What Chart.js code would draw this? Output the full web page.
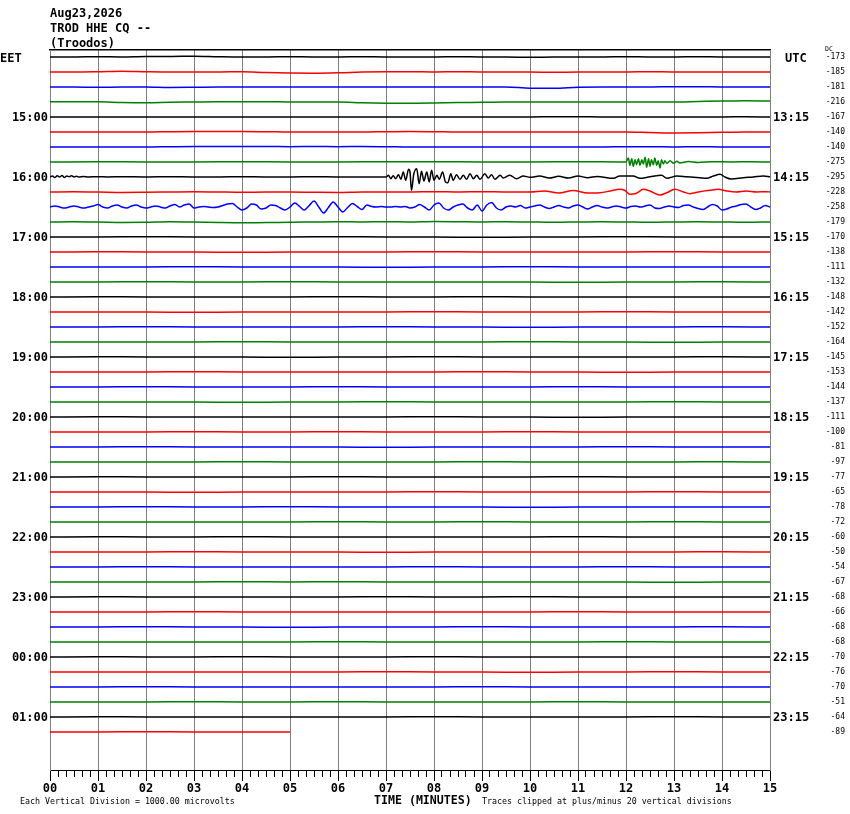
<!DOCTYPE html>
<html><head><meta charset="utf-8">
<script src="https://cdn.jsdelivr.net/npm/chart.js@4.4.1/dist/chart.umd.min.js"></script>
<style>
html,body{margin:0;padding:0;background:#fff;}
#wrap{position:relative;width:850px;height:814px;overflow:hidden;background:#fff;}
canvas{position:absolute;left:0;top:0;}
.t{position:absolute;font-family:"DejaVu Sans Mono",monospace;color:#000;white-space:pre;line-height:1;}
.hb{font-weight:bold;font-size:12px;}
.sm{font-size:8.3px;}
</style></head><body>
<div id="wrap">
<canvas id="c" width="850" height="814"></canvas>
<div class="t hb" style="left:50px;top:7px">Aug23,2026</div>
<div class="t hb" style="left:50px;top:22px">TROD HHE CQ --</div>
<div class="t hb" style="left:50px;top:37px">(Troodos)</div>
<div class="t hb" style="left:0px;top:52px">EET</div>
<div class="t hb" style="left:785px;top:52px">UTC</div>
<div class="t" style="left:825px;top:46px;font-size:6.5px">DC</div>
<div class="t hb" style="left:374px;top:795px;font-size:11.6px">TIME (MINUTES)</div>
<div class="t sm" style="left:20px;top:797px">Each Vertical Division = 1000.00 microvolts</div>
<div class="t sm" style="left:482px;top:797px">Traces clipped at plus/minus 20 vertical divisions</div>
</div>
<script>
// ---------- data ----------
const UNITS_PER_ROW = 15;   // deflection units per trace spacing
const FULL_SPAN = 15;       // minutes per line
const lastTraceEnd = 5;     // minutes recorded on the final line

const minuteLabels = ['00','01','02','03','04','05','06','07','08','09','10','11','12','13','14','15'];
const eetLabels = ['15:00','16:00','17:00','18:00','19:00','20:00','21:00','22:00','23:00','00:00','01:00'];
const utcLabels = ['13:15','14:15','15:15','16:15','17:15','18:15','19:15','20:15','21:15','22:15','23:15'];
const dcOffsets = ['-173','-185','-181','-216','-167','-140','-140','-275','-295','-228','-258','-179',
  '-170','-138','-111','-132','-148','-142','-152','-164','-145','-153','-144','-137',
  '-111','-100','-81','-97','-77','-65','-78','-72','-60','-50','-54','-67',
  '-68','-66','-68','-68','-70','-76','-70','-51','-64','-89'];
const traceColors = ['#000000','#ff0000','#0000ff','#008000'];

// Each trace: either evenly spaced deflections, or [minute, deflection] pairs (up = positive)
const trace07 = [[0,0],[1,0.3],[2,0],[3,0],[4,0.3],[5,0],[6,0],[7,0.3],[8,0.3],[9,0],[10,0],[11,0.3],[11.9,0],[12.0,0],
  [12.05,4],[12.08,-3.3],[12.12,3.3],[12.15,-4.3],[12.19,2.3],[12.22,-2.7],[12.26,3.3],[12.29,-3.3],[12.33,2.3],[12.36,-2],
  [12.40,4.7],[12.43,-5.3],[12.47,3.3],[12.50,-4.3],[12.53,2.3],[12.57,-2.7],[12.60,4],[12.64,-3.3],[12.67,1.3],[12.71,-6],
  [12.74,2.3],[12.78,-2],[12.81,1.3],[12.85,-1.3],[12.92,1.3],[12.99,-1.3],[13.06,0.7],[13.12,-1],[13.3,0.5],[13.5,-0.5],
  [13.8,0.3],[14.2,0],[14.6,0.3],[15,0]];
const trace08 = [[0,0],[0.05,1],[0.1,-0.5],[0.15,1.2],[0.2,0],[0.25,1.5],[0.3,-0.5],[0.35,1],[0.4,0.3],[0.45,1.3],[0.5,0],
  [0.55,0.8],[0.6,0],[0.7,0.5],[0.8,0],[1.0,0.3],[1.2,0],[1.5,0.3],[2,0],[2.5,0.3],[3,0],[3.5,0],[4,0.3],[4.5,0],[5,0],
  [5.5,0.3],[6,0],[6.5,0],[7.0,0],
  [7.05,1.7],[7.10,-1.7],[7.15,1.3],[7.20,-1.7],[7.26,2.3],[7.31,-2.3],[7.36,5],[7.41,-3.3],[7.47,7.7],[7.50,5],[7.53,-13.3],
  [7.58,3.3],[7.64,8.3],[7.69,-6.7],[7.74,5.7],[7.79,-4],[7.85,5],[7.90,-5],[7.95,6.7],[8.0,-3.3],[8.06,1.7],[8.11,-2.3],
  [8.18,5],[8.24,-5],[8.29,-5.7],[8.35,3.3],[8.40,-3.3],[8.47,2.3],[8.54,-2.3],[8.61,1.7],[8.68,-2.3],[8.75,3.3],[8.82,-1.7],
  [8.89,1.7],[8.96,-2.3],[9.06,3.3],[9.13,-1],[9.20,2.3],[9.27,-2.3],[9.38,1.7],[9.44,-1],[9.58,1.7],[9.72,-1.7],[9.86,1],
  [10.0,-0.3],[10.2,1],[10.4,-1],[10.6,0.7],[10.8,-1],[11.0,1],[11.2,-0.7],[11.4,0.5],[11.74,-1.3],[11.87,1],[12.15,1],
  [12.29,-1.3],[12.50,0.3],[12.74,1.7],[12.85,-1.3],[13.06,1],[13.26,0.3],[13.54,-0.7],[13.68,-1.3],[13.82,1],[13.96,2.7],
  [14.06,0],[14.20,-2],[14.44,-0.7],[14.65,0],[14.86,1],[15.0,0.3]];
const trace09 = [[0,0],[0.5,0.3],[1,0],[1.5,-0.5],[2,-0.3],[2.5,0],[3,0.3],[3.5,0],[4,-0.3],[4.5,0],[5,0],[5.5,-0.3],[6,-0.5],
  [6.5,0],[7,0],[7.5,0],[8,0.3],[8.5,0],[9,0.3],[9.5,0],[10,0],[10.3,1],[10.6,-1],[10.9,1.5],[11.2,-1],[11.46,-0.7],[11.67,1],
  [11.87,2.7],[11.98,1.5],[12.08,-2.3],[12.22,-1.3],[12.36,2.7],[12.5,1],[12.71,-3],[12.85,-0.7],[13.02,2.7],[13.2,0],
  [13.33,-1.7],[13.54,0.3],[13.75,1.7],[13.92,2.7],[14.1,1],[14.3,0],[14.5,1],[14.72,0],[14.93,0.3],[15,0]];
const trace10 = [
  0,1,0,-1,0,1,0,-1,0,1,
  2.5,0,-1,1,2,0,-1,1,2,0,
  -1,0,1,0,-1,1,2.5,0,2,3,
  -1,0,0.5,0,-0.5,0,1.5,3,3.5,0,
  -3,-1,3,2,-2,-1,2,1.5,-1,-3,
  0,4,0.5,-3,1.5,6,0,-6,-0.5,5,
  0,-5,-0.5,3.5,0.5,-2.5,2,0.5,0,0.5,
  0,0,0.5,0,0.5,-1,0,2.5,0,-3,
  2,4,-1,-3,0,2,3,-1,-3,2,
  -4,2,4.5,-1,-3,0,1,0,1.5,-1,
  0,1,2,0,-1.5,0,1.5,0,-1,1,
  2,0,-2,0,1.5,0,-1,0,1,0,
  -1,0.5,1,0,1,2,-1,-1.5,0,1,
  0,-0.5,1.5,2,0,-1.5,-2.5,0,2.5,1,
  -3,-2,0,1,2.5,3,0,-2.5,-1,1.5,
  0];

const traces = [
  [0,0,0.3,0,0.5,0.5,0.8,0.3,0,0,0.3,0,0,0.3,0,0,0,0.3,0,0,-0.3,0,0,0,0.3,0,0,0.3,0,0,0],
  [0,0,0.3,0.8,0.3,0,0,0,0.3,-0.5,-1,-1.2,-0.8,0,0.3,0.3,0,0.3,0,0,0,-0.3,0,0,0,0.3,0,0,0,0,0],
  [0,0,-0.3,0,0,-0.5,-0.3,0,0,0,0,0,0,0,0,0,0,0,0,0,-1.2,-1.3,-0.3,0,0,0,0.3,0.3,0,0,0],
  [0.3,0.3,0.3,-0.5,-0.8,-0.3,0,0.3,0.3,0.3,0,0,0,-0.7,-1.2,-1.3,-1,-0.5,-0.3,0,0,0,0,0,0,0,0,0.5,1,1.3,1],
  [0,0,0,0,0,0,0,0,0,0,0,0,0,0,0,0,0,0,0,0,0,0.3,0.3,0,0,0,0,0,0,0.3,0],
  [0,0,0,0,0,0.3,0.5,0.5,0.5,0.3,0,0,0,0,0.3,0.5,0.3,0,0,0,0,0,0,0,0,-0.5,-1,-0.8,-0.3,0,0],
  [0,0,0,0,0,0.3,0.5,0.5,0.5,0.5,0.3,0.5,0.3,0.5,0.3,0,0,0,0,0,0,0,0,0,0.3,0.3,0,0.3,0,0,0],
  trace07,
  trace08,
  trace09,
  trace10,
  [0,0.3,0,-0.5,-0.3,0.3,0,-0.5,-0.8,-0.5,-0.3,0,0.3,0,0.3,0,0.5,0.3,0,0.3,0,-0.3,0,0.3,0,-0.3,0,0.3,0,-0.3,0],
  [0,0,0.3,0,0,0,0.3,0,0,-0.3,0,0,0.3,0,0,0],
  [0,0.3,0,0,-0.3,0,0,0,0.3,0,0,0,0,0.3,0,0],
  [0,0,0,0.3,0,0,0,-0.3,0,0,0.3,0,0,0,0,0],
  [0,0,0.3,0,0,0.3,0,0,0,0,0,-0.3,0,0,0.3,0],
  [0,0.3,0,0,0,0,0.3,0,0,0.3,0,0,0,0,0,0],
  [0,0,0,-0.3,0,0,0,0,0.3,0,0,0,0.3,0,0,0],
  [0,0,0.3,0,0,0,0,0.3,0,0,-0.3,0,0,0,0.3,0],
  [0,0,0,0,0.3,0,0,0,0,0,0.3,0,0,-0.3,0,0],
  [0,0.3,0,0,0,-0.3,0,0,0.3,0,0,0,0,0,0.3,0],
  [0,0,0,0.3,0,0,0,0,0,0.3,0,0,-0.3,0,0,0],
  [0,0,0.3,0,0,0,0.3,0,0,0,0,0.3,0,0,0,0],
  [0,0,0,0,-0.3,0,0,0.3,0,0,0,0,0,0.3,0,0],
  [0,0.3,0,0,0,0,0,0,0.3,0,0,-0.3,0,0,0,0],
  [0,0,0,0.3,0,0,0.3,0,0,0,0.3,0,0,0,0,0],
  [0,0,0.3,0,0,0,0,-0.3,0,0,0,0,0.3,0,0,0],
  [0,0,0,0,0.3,0,0,0,0,0.3,0,0,0,0,0.3,0],
  [0,0.3,0,0,0,0,0.3,0,0,0,0,0.3,0,0,0,0],
  [0,0,0,-0.3,0,0,0,0,0.3,0,0,0,0,0.3,0,0],
  [0,0,0.3,0,0,0.3,0,0,0,0,-0.3,0,0,0,0,0],
  [0,0,0,0,0,0,0.3,0,0,0.3,0,0,0,0.3,0,0],
  [0,0.3,0,0,0.3,0,0,0,0,0,0,0.3,0,0,0,0],
  [0,0,0,0.3,0,0,0,-0.3,0,0,0,0,0,0,0.3,0],
  [0,0,0.3,0,0,0,0,0,0.3,0,0,0,0.3,0,0,0],
  [0,0,0,0,0.3,0,0.3,0,0,0,0,0,0,-0.3,0,0],
  [0,0.3,0,0,0,0,0,0.3,0,0,0.3,0,0,0,0,0],
  [0,0,0,0.3,0,0,0,0,0,0,0,0.3,0,0,0,0],
  [0,0,0.3,0,0,-0.3,0,0,0,0.3,0,0,0,0,0.3,0],
  [0,0,0,0,0,0,0.3,0,0,0,0,0,0.3,0,0,0],
  [0,0.3,0,0,0.3,0,0,0,0.3,0,0,0,0,0,0,0],
  [0,0,0,0,0,0,0,0.3,0,0,-0.3,0,0,0.3,0,0],
  [0,0,0.3,0,0,0,0,0,0,0.3,0,0,0,0,0,0],
  [0,0,0,0.3,0,0,0.3,0,0,0,0,0.3,0,0,0,0],
  [0,0.3,0,0,0,0,0,0,0.3,0,0,0,0,0.3,0,0],
  [0,0,0.3,0,0,0]
];

// ---------- chart ----------
function toPoints(tr, i) {
  const end = i === traces.length - 1 ? lastTraceEnd : FULL_SPAN;
  if (Array.isArray(tr[0])) return tr.map(p => ({x: p[0], y: -i + p[1] / UNITS_PER_ROW}));
  const step = end / (tr.length - 1);
  return tr.map((v, k) => ({x: k * step, y: -i + v / UNITS_PER_ROW}));
}
const datasets = traces.map((tr, i) => ({
  data: toPoints(tr, i),
  borderColor: traceColors[i % 4],
  borderWidth: 1.5,
  pointRadius: 0,
  cubicInterpolationMode: 'monotone',
  fill: false,
  xAxisID: 'x', yAxisID: 'y'
}));

const Y_MAX = 0.4667, Y_MIN = -47.5333;
const MONO = "'DejaVu Sans Mono', monospace";
const isWhole = v => Math.abs(v - Math.round(v)) < 1e-6;

new Chart(document.getElementById('c'), {
  type: 'line',
  data: { datasets },
  options: {
    responsive: false,
    animation: false,
    events: [],
    layout: { padding: { top: 50, left: 0, right: 5, bottom: 0 } },
    plugins: { legend: { display: false }, tooltip: { enabled: false } },
    scales: {
      x: {
        type: 'linear', position: 'bottom', min: 0, max: FULL_SPAN, weight: 0,
        afterBuildTicks: s => { const t = []; for (let k = 0; k <= FULL_SPAN * 6; k++) t.push({value: k / 6}); s.ticks = t; },
        afterFit: s => { s.height = 7; },
        ticks: { display: false },
        grid: {
          drawOnChartArea: true, drawTicks: true, tickLength: 7, tickColor: '#000', tickWidth: 1, lineWidth: 1,
          color: ctx => (ctx.tick && isWhole(ctx.tick.value)) ? '#808080' : 'rgba(0,0,0,0)'
        },
        border: { display: true, color: '#000', width: 1 }
      },
      x2: {
        type: 'linear', position: 'bottom', min: 0, max: FULL_SPAN, weight: 1,
        afterBuildTicks: s => { s.ticks = minuteLabels.map((_, k) => ({value: k})); },
        afterFit: s => { s.height = 37; },
        ticks: { autoSkip: false, maxRotation: 0, minRotation: 0, padding: 1, color: '#000',
          font: { family: MONO, weight: 'bold', size: 12 },
          callback: (v, i) => minuteLabels[i] },
        grid: { drawOnChartArea: false, drawTicks: true, tickLength: 4, tickColor: '#000', color: '#000' },
        border: { display: false }
      },
      xTop: {
        type: 'linear', position: 'top', min: 0, max: FULL_SPAN,
        afterFit: s => { s.height = 0; },
        ticks: { display: false },
        grid: { display: false, drawTicks: false },
        border: { display: true, color: '#000', width: 1.5 }
      },
      y: {
        type: 'linear', position: 'left', min: Y_MIN, max: Y_MAX,
        afterBuildTicks: s => { s.ticks = eetLabels.map((_, k) => ({value: -4 * (k + 1)})); },
        afterFit: s => { s.width = 50; },
        ticks: { autoSkip: false, padding: 2, labelOffset: 1, color: '#000',
          font: { family: MONO, weight: 'bold', size: 12 },
          callback: (v, i) => eetLabels[i] },
        grid: { display: false, drawTicks: false },
        border: { display: true, color: '#808080', width: 1 }
      },
      yUtc: {
        type: 'linear', position: 'right', min: Y_MIN, max: Y_MAX, weight: 0,
        afterBuildTicks: s => { s.ticks = utcLabels.map((_, k) => ({value: -4 * (k + 1)})); },
        afterFit: s => { s.width = 47; },
        ticks: { autoSkip: false, padding: 3, labelOffset: 1, color: '#000', crossAlign: 'near',
          font: { family: MONO, weight: 'bold', size: 12 },
          callback: (v, i) => utcLabels[i] },
        grid: { display: false, drawTicks: false },
        border: { display: true, color: '#808080', width: 1 }
      },
      yDc: {
        type: 'linear', position: 'right', min: Y_MIN, max: Y_MAX, weight: 1,
        afterBuildTicks: s => { s.ticks = dcOffsets.map((_, k) => ({value: -k})); },
        afterFit: s => { s.width = 28; },
        ticks: { autoSkip: false, padding: 0, color: '#000', crossAlign: 'far',
          font: { family: MONO, size: 8 },
          callback: (v, i) => dcOffsets[i] },
        grid: { display: false, drawTicks: false },
        border: { display: false }
      }
    }
  }
});
</script>
</body></html>
